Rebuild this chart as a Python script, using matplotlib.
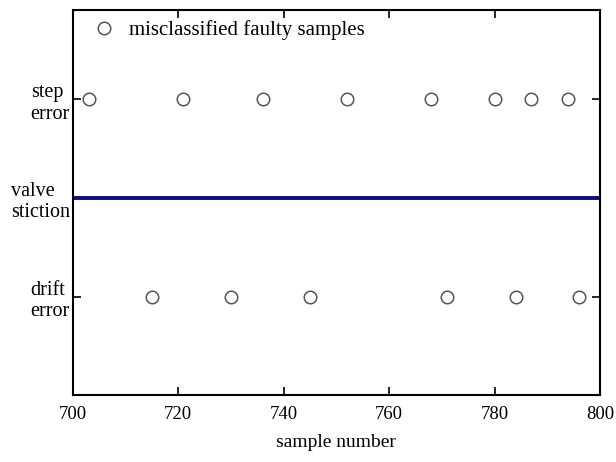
import matplotlib.pyplot as plt
import numpy as np

plt.rcParams['font.family'] = ['Liberation Serif', 'DejaVu Serif']

classes = ['drift\nerror', 'valve\nstiction', 'step\nerror']
class_pos = [1, 2, 3]

# misclassified samples
step_x = [703, 721, 736, 752, 768, 780, 787, 794]
drift_x = [715, 730, 745, 771, 784, 796]

# valve stiction samples, all on their class line
valve_x = np.arange(700, 801)

fig = plt.figure(figsize=(6.16, 4.62), dpi=100)
ax = fig.add_axes([0.118, 0.145, 0.856, 0.833])

ax.plot(valve_x, [2] * len(valve_x), color='#0b0b82', lw=2.8)
ax.plot(step_x, [3] * len(step_x), 'o', ms=9, mfc='white', mec='#555555',
        mew=1.1, ls='none', label='misclassified faulty samples')
ax.plot(drift_x, [1] * len(drift_x), 'o', ms=9, mfc='white', mec='#555555',
        mew=1.1, ls='none')

ax.set_xlim(700, 800)
ax.set_ylim(0.01, 3.9)
ax.set_xticks([700, 720, 740, 760, 780, 800])
ax.set_yticks(class_pos)
ax.set_yticklabels(classes, fontsize=14.5)
for lab in ax.get_yticklabels():
    lab.set_multialignment('left')

ax.tick_params(direction='in', length=6, width=1.2, top=True, right=True)
ax.tick_params(axis='x', labelsize=13.5, pad=8)
ax.tick_params(axis='y', pad=2)
for s in ax.spines.values():
    s.set_linewidth(1.5)

ax.set_xlabel('sample number', fontsize=14, labelpad=8)
ax.legend(loc='upper left', frameon=False, fontsize=15, handletextpad=0.2,
          borderaxespad=0.1, bbox_to_anchor=(0.0, 1.0))

fig.savefig('out.png', dpi=100)
